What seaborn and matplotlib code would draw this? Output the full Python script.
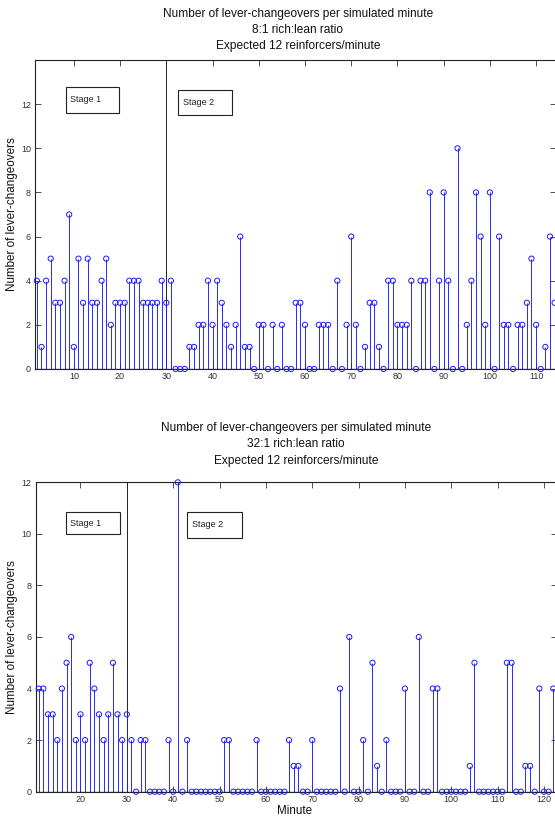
import matplotlib
matplotlib.use("Agg")
import matplotlib.pyplot as plt
from matplotlib.patches import Rectangle
import pandas as pd
import seaborn as sns

# ---- data -------------------------------------------------------------
minutes_8to1 = list(range(2, 115))
changeovers_8to1 = [
    4, 1, 4, 5, 3, 3, 4, 7, 1,            # 2-10
    5, 3, 5, 3, 3, 4, 5, 2, 3, 3,         # 11-20
    3, 4, 4, 4, 3, 3, 3, 3, 4, 3,         # 21-30
    4, 0, 0, 0, 1, 1, 2, 2, 4, 2,         # 31-40
    4, 3, 2, 1, 2, 6, 1, 1, 0, 2,         # 41-50
    2, 0, 2, 0, 2, 0, 0, 3, 3, 2,         # 51-60
    0, 0, 2, 2, 2, 0, 4, 0, 2, 6,         # 61-70
    2, 0, 1, 3, 3, 1, 0, 4, 4, 2,         # 71-80
    2, 2, 4, 0, 4, 4, 8, 0, 4, 8,         # 81-90
    4, 0, 10, 0, 2, 4, 8, 6, 2, 8,        # 91-100
    0, 6, 2, 2, 0, 2, 2, 3, 5, 2,         # 101-110
    0, 1, 6, 3,                           # 111-114
]

minutes_32to1 = list(range(11, 123))
changeovers_32to1 = [
    4, 4, 3, 3, 2, 4, 5, 6, 2, 3,         # 11-20
    2, 5, 4, 3, 2, 3, 5, 3, 2, 3,         # 21-30
    2, 0, 2, 2, 0, 0, 0, 0, 2, 0,         # 31-40
    12, 0, 2, 0, 0, 0, 0, 0, 0, 0,        # 41-50
    2, 2, 0, 0, 0, 0, 0, 2, 0, 0,         # 51-60
    0, 0, 0, 0, 2, 1, 1, 0, 0, 2,         # 61-70
    0, 0, 0, 0, 0, 4, 0, 6, 0, 0,         # 71-80
    2, 0, 5, 1, 0, 2, 0, 0, 0, 4,         # 81-90
    0, 0, 6, 0, 0, 4, 4, 0, 0, 0,         # 91-100
    0, 0, 0, 1, 5, 0, 0, 0, 0, 0,         # 101-110
    0, 5, 5, 0, 0, 1, 1, 0, 4, 0,         # 111-120
    0, 4,                                 # 121-122
]

titles_8to1 = ["Number of lever-changeovers per simulated minute",
               "8:1 rich:lean ratio",
               "Expected 12 reinforcers/minute"]
titles_32to1 = ["Number of lever-changeovers per simulated minute",
                "32:1 rich:lean ratio",
                "Expected 12 reinforcers/minute"]
stage_labels = ["Stage 1", "Stage 2"]
stage_boundary = 30
y_label = "Number of lever-changeovers"
x_label = "Minute"

# ---- style ------------------------------------------------------------
sns.set_style("ticks")
plt.rcParams["font.family"] = ["Liberation Sans", "DejaVu Sans"]

W, H = 555, 817
fig = plt.figure(figsize=(W / 100, H / 100), dpi=100)
fig.patch.set_facecolor("white")


def axes_px(left, top, right, bottom):
    return fig.add_axes([left / W, 1 - bottom / H, (right - left) / W, (bottom - top) / H])


def fig_text(x, y, s, **kw):
    fig.text(x / W, 1 - y / H, s, **kw)


STEM = "#1a1aff"


def stem_panel(ax, minutes, counts, xlim, ylim, xticks, boxes):
    df = pd.DataFrame({"minute": minutes, "count": counts})
    ax.vlines(df["minute"], 0, df["count"], color=STEM, lw=0.65, zorder=2)
    sns.scatterplot(data=df, x="minute", y="count", ax=ax, marker="o", s=14,
                    facecolor="none", edgecolor=STEM, linewidth=0.7,
                    zorder=3, clip_on=False, legend=False)
    ax.collections[-1].set_facecolor("none")
    ax.axhline(0, color="#111111", lw=0.9, zorder=2.5)
    ax.axvline(stage_boundary, color="#222222", lw=0.7, zorder=1)
    ax.set_xlim(*xlim)
    ax.set_ylim(*ylim)
    ax.set_xticks(xticks)
    ax.set_yticks(range(0, 13, 2))
    ax.set_xlabel("")
    ax.set_ylabel("")
    ax.tick_params(direction="in", length=4, width=0.6, top=True, right=True,
                   labelsize=6.5, colors="#333333", labelcolor="#333333")
    ax.tick_params(axis="x", pad=2.5)
    ax.tick_params(axis="y", pad=3)
    for sp in ax.spines.values():
        sp.set_visible(True)
        sp.set_linewidth(0.8)
        sp.set_color("#222222")
    for label, (x0, y0, w, h, tx, ty) in zip(stage_labels, boxes):
        ax.add_patch(Rectangle((x0, y0), w, h, transform=ax.transAxes,
                               facecolor="white", edgecolor="#222222",
                               lw=0.8, zorder=4))
        ax.text(tx, ty, label, transform=ax.transAxes, ha="left", va="center",
                fontsize=6.5, color="#222222", zorder=5)


# ---- top panel: 8:1 --------------------------------------------------
ax1 = axes_px(35, 60, 556, 369)
stem_panel(ax1, minutes_8to1, changeovers_8to1, (1.6, 114.3), (0, 14),
           range(10, 111, 10),
           [(0.0595, 0.8285, 0.1017, 0.0841, 0.068, 0.8706),
            (0.274, 0.821, 0.1036, 0.082, 0.2835, 0.8625)])
for i, line in enumerate(titles_8to1):
    fig_text(298, 14 + 16 * i, line, ha="center", va="center",
             fontsize=8.6, color="#111111")
fig_text(12, 214.5, y_label, ha="center", va="center", rotation=90,
         fontsize=8.4, color="#111111")

# ---- bottom panel: 32:1 ----------------------------------------------
ax2 = axes_px(35.5, 482.3, 556.5, 791.7)
stem_panel(ax2, minutes_32to1, changeovers_32to1, (10.3, 122.7), (0, 12),
           range(20, 121, 10),
           [(0.058, 0.832, 0.1036, 0.071, 0.066, 0.868),
            (0.291, 0.821, 0.1044, 0.083, 0.301, 0.862)])
for i, line in enumerate(titles_32to1):
    fig_text(296, 428 + 16.5 * i, line, ha="center", va="center",
             fontsize=8.6, color="#111111")
fig_text(12, 637, y_label, ha="center", va="center", rotation=90,
         fontsize=8.4, color="#111111")
fig_text(295, 811, x_label, ha="center", va="center", fontsize=8.4,
         color="#111111")

fig.savefig("out.png", dpi=100)
